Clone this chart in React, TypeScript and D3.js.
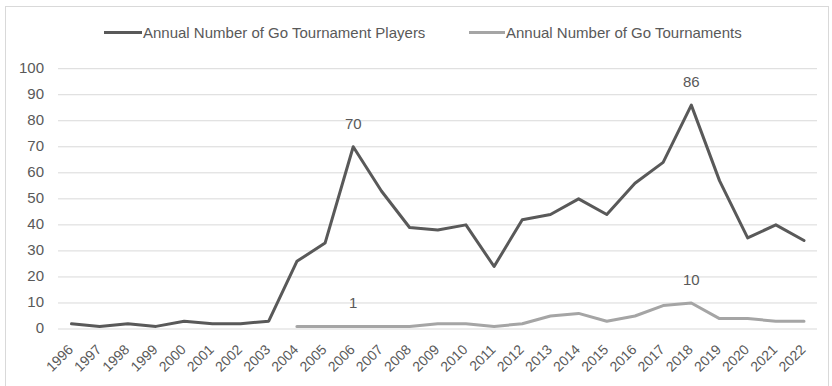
import React from "react";
import * as d3 from "d3";

const years = ["1996","1997","1998","1999","2000","2001","2002","2003","2004","2005","2006","2007","2008","2009","2010","2011","2012","2013","2014","2015","2016","2017","2018","2019","2020","2021","2022"];
const players = [2,1,2,1,3,2,2,3,26,33,70,53,39,38,40,24,42,44,50,44,56,64,86,57,35,40,34];
const tournaments: (number | null)[] = [null,null,null,null,null,null,null,null,1,1,1,1,1,2,2,1,2,5,6,3,5,9,10,4,4,3,3];
const yTicks = [0,10,20,30,40,50,60,70,80,90,100];
const labeledPlayers = ["2006", "2018"];
const labeledTournaments = ["2006", "2018"];
const seriesNames = ["Annual Number of Go Tournament Players", "Annual Number of Go Tournaments"];

const W = 832, H = 386;
const FONT = "'Liberation Sans', Arial, sans-serif";
const TXT = "#595959";
const C1 = "#595959";
const C2 = "#a5a5a5";
const FS = 15;

export default function App() {
  const x = d3.scalePoint<string>().domain(years).range([71.5, 804]);
  const y = d3.scaleLinear().domain([0, 100]).range([329, 68.7]);
  const line = d3.line<number | null>()
    .defined((d) => d !== null)
    .x((_, i) => x(years[i]) as number)
    .y((d) => y(d as number));

  return (
    <svg width={W} height={H} style={{ position: "absolute", left: 0, top: 0, background: "#fff" }} fontFamily={FONT}>
      <rect x={5.5} y={6.5} width={823} height={400} fill="#fff" stroke="#d9d9d9" />
      {yTicks.map((t) => (
        <g key={t}>
          <line x1={58} x2={817} y1={y(t)} y2={y(t)} stroke="#d9d9d9" strokeWidth={1} />
          <text x={44} y={y(t) - 1} dy="0.35em" textAnchor="end" fontSize={FS} fill={TXT}>{t}</text>
        </g>
      ))}
      {years.map((yr) => (
        <text key={yr} transform={`translate(${(x(yr) as number) - 1},${347}) rotate(-45)`} textAnchor="end" dy="0.35em" fontSize={14} fill={TXT}>{yr}</text>
      ))}
      <path d={line(tournaments) ?? ""} fill="none" stroke={C2} strokeWidth={3} strokeLinejoin="round" strokeLinecap="round" />
      <path d={line(players) ?? ""} fill="none" stroke={C1} strokeWidth={3} strokeLinejoin="round" strokeLinecap="round" />
      {labeledPlayers.map((yr) => {
        const i = years.indexOf(yr);
        return <text key={"p" + yr} x={x(yr)} y={y(players[i]) - 18} textAnchor="middle" fontSize={FS} fill={TXT}>{players[i]}</text>;
      })}
      {labeledTournaments.map((yr) => {
        const i = years.indexOf(yr);
        return <text key={"t" + yr} x={x(yr)} y={y(tournaments[i] as number) - 18} textAnchor="middle" fontSize={FS} fill={TXT}>{tournaments[i]}</text>;
      })}
      <g>
        <line x1={104} x2={142} y1={32.5} y2={32.5} stroke={C1} strokeWidth={3} />
        <text x={143} y={32.5} dy="0.35em" fontSize={FS} fill={TXT}>{seriesNames[0]}</text>
        <line x1={469} x2={505} y1={32.5} y2={32.5} stroke={C2} strokeWidth={3} />
        <text x={506} y={32.5} dy="0.35em" fontSize={FS} fill={TXT}>{seriesNames[1]}</text>
      </g>
    </svg>
  );
}
